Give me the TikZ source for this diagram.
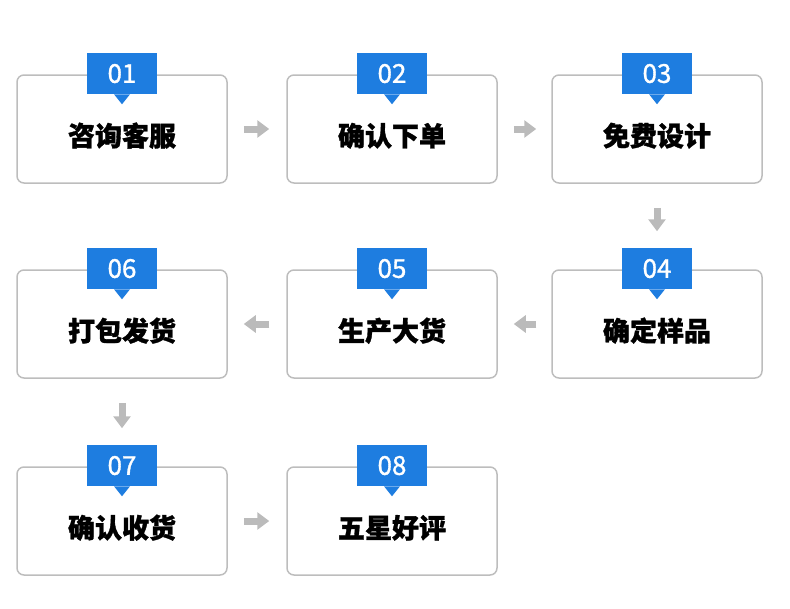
\documentclass[tikz,border=0pt]{standalone}
\usepackage{fontspec}
\setmainfont{Noto Sans CJK SC}[FakeBold=1.2]
\usetikzlibrary{arrows.meta,positioning}
\definecolor{tagblue}{HTML}{1E7DE0}
\definecolor{boxgray}{HTML}{BDBDBD}
\definecolor{arrgray}{HTML}{BBBBBB}
\tikzset{
  stepbox/.style={draw=boxgray,line width=1.5pt,rounded corners=7pt,minimum width=210pt,minimum height=108pt,
    font=\fontsize{27pt}{27pt}\selectfont\bfseries,text height=34pt,text depth=0pt},
  tag/.style={fill=tagblue,text=white,minimum width=70pt,minimum height=41pt,inner sep=0pt,
    font=\fontsize{26pt}{26pt}\selectfont},
  flow/.style={arrgray,line width=7pt,-{Triangle[length=12pt,width=17pt]}}
}
\begin{document}
\begin{tikzpicture}[x=1pt,y=-1pt]
  \useasboundingbox (0,0) rectangle (790,608);
  % boxes
  \node[stepbox] (s1) at (122,129) {咨询客服};
  \node[stepbox] (s2) at (392,129) {确认下单};
  \node[stepbox] (s3) at (657,129) {免费设计};
  \node[stepbox] (s4) at (657,324) {确定样品};
  \node[stepbox] (s5) at (392,324) {生产大货};
  \node[stepbox] (s6) at (122,324) {打包发货};
  \node[stepbox] (s7) at (122,521) {确认收货};
  \node[stepbox] (s8) at (392,521) {五星好评};
  % tags
  \foreach \n/\t in {1/01,2/02,3/03,4/04,5/05,6/06,7/07,8/08}{
    \node[tag,above=-20pt of s\n.north] (t\n) {\t};
    \fill[tagblue] ([xshift=-8pt]t\n.south) -- ([xshift=8pt]t\n.south) -- ([yshift=-10pt]t\n.south) -- cycle;
  }
  % arrows
  \draw[flow,shorten <=16pt,shorten >=17pt] (s1) -- (s2);
  \draw[flow,shorten <=16pt,shorten >=15pt] (s2) -- (s3);
  \draw[flow,shorten <=24pt,shorten >=38pt] (s3) -- (s4);
  \draw[flow,shorten <=15pt,shorten >=16pt] (s4) -- (s5);
  \draw[flow,shorten <=17pt,shorten >=16pt] (s5) -- (s6);
  \draw[flow,shorten <=24pt,shorten >=38pt] (s6) -- (s7);
  \draw[flow,shorten <=16pt,shorten >=17pt] (s7) -- (s8);
\end{tikzpicture}
\end{document}
